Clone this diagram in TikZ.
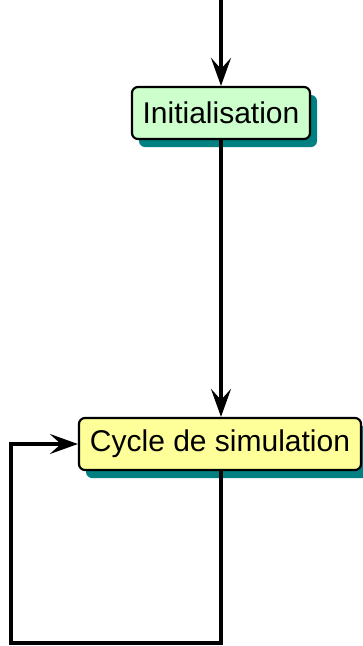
\documentclass[tikz,border=0pt]{standalone}
\usepackage{fontspec}
\setmainfont{Liberation Sans}
\usetikzlibrary{arrows.meta,shadows}
\definecolor{boxgreen}{RGB}{204,255,204}
\definecolor{boxyellow}{RGB}{255,255,153}
\definecolor{shadowteal}{RGB}{0,128,128}
\begin{document}
\begin{tikzpicture}[x=1pt,y=-1pt,
  stepbox/.style={draw=black, line width=2.2pt, rounded corners=6pt,
    inner sep=0pt, font=\fontsize{30}{36}\selectfont,
    drop shadow={shadow xshift=7pt, shadow yshift=-8pt, fill=shadowteal, opacity=1}},
  flow/.style={line width=3.3pt, -{Stealth[length=28pt,width=20pt,inset=11pt]}}]
  \useasboundingbox (0,0) rectangle (363,646);
  \coordinate (start) at (221,0);
  \node[stepbox, fill=boxgreen, minimum width=178pt, minimum height=52pt]
    (init) at (221,113) {Initialisation};
  \node[stepbox, fill=boxyellow, minimum width=282pt, minimum height=52pt]
    (cycle) at (220,444) {Cycle de simulation};
  \coordinate (loopbr) at (221,643);
  \coordinate (loopbl) at (11,643);
  \coordinate (looptl) at (11,444);
  \draw[flow] (start) -- (init.north);
  \draw[flow] (init.south -| start) -- (cycle.north -| start);
  \draw[flow, rounded corners=0pt] (cycle.south -| start) -- (loopbr) -- (loopbl) -- (looptl) -- (cycle.west);
\end{tikzpicture}
\end{document}
